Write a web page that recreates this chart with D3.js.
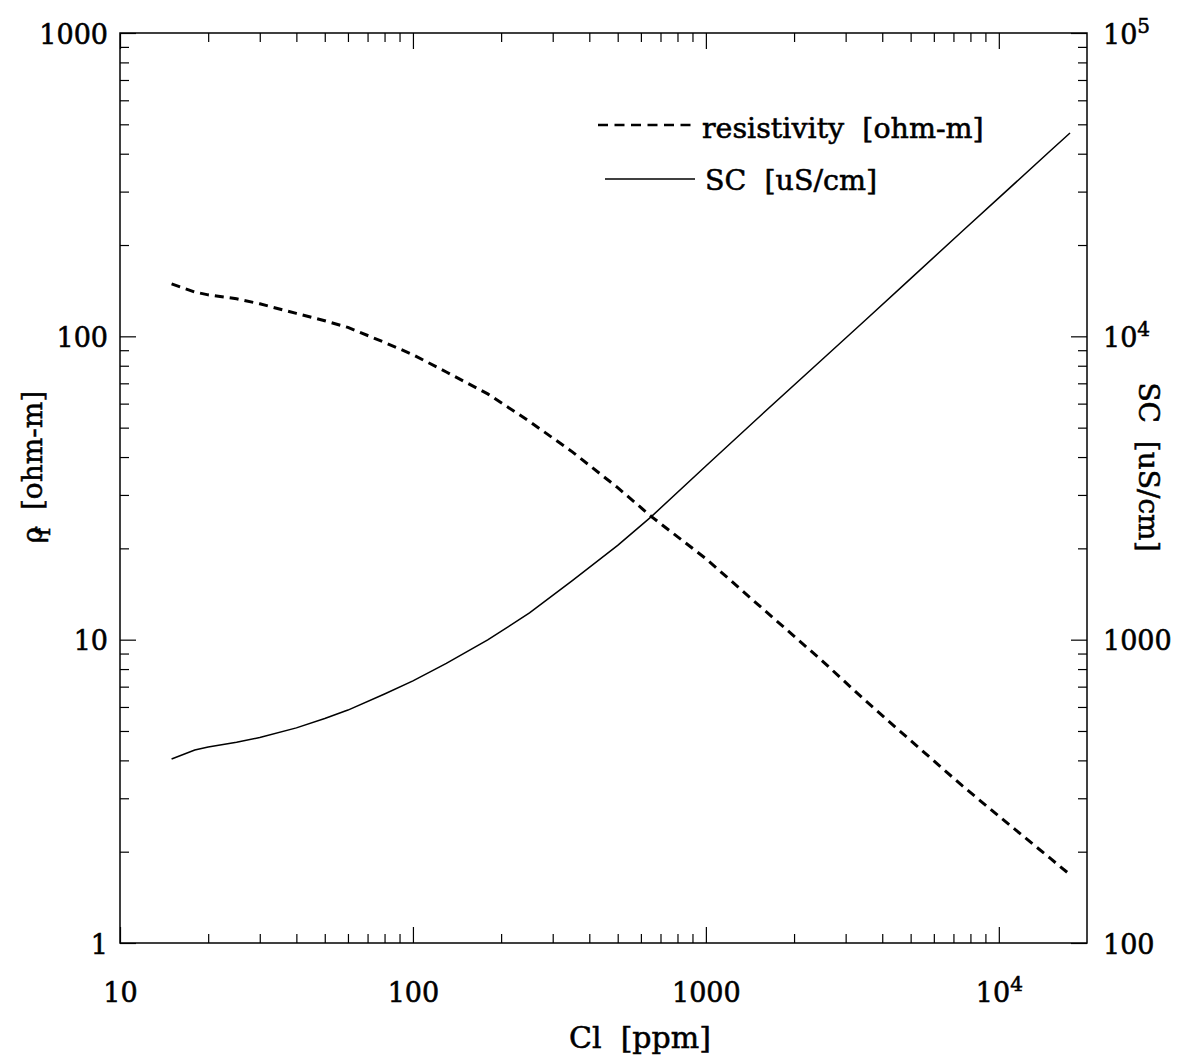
<!DOCTYPE html>
<html>
<head>
<meta charset="utf-8">
<script src="https://cdn.jsdelivr.net/npm/d3@7"></script>
<style>
  body { margin: 0; background: #fff; }
  text { font-family: "DejaVu Serif", serif; fill: #000; stroke: #000; stroke-width: 0.55px; }
</style>
</head>
<body>
<script>

// chloride concentration [ppm]
const chloride = [15, 18, 20, 25, 30, 40, 50, 60, 80, 100, 130, 180, 250, 350,
                  500, 650, 1000, 1500, 2500, 3500, 5000, 7500, 10000, 15000, 17500];

// fluid resistivity [ohm-m] (left axis)
const resistivity = [149, 140, 137, 133, 128, 119, 112.6, 107, 95.5, 87, 76.3, 64.6,
                     52.4, 41.6, 31.7, 25.5, 18.5, 13.1, 8.5, 6.3, 4.65, 3.3, 2.62,
                     1.9, 1.68];

// specific conductance [uS/cm] (right axis)
const conductance = [404, 433, 443, 459, 476, 512, 550, 586, 662, 731, 835, 998, 1225,
                     1565, 2047, 2540, 3738, 5360, 8400, 11300, 15500, 22200, 28600,
                     40900, 46800];

// major ticks and their labels: [base, superscript]
const xTicks = [10, 100, 1000, 10000];
const xTickLabels = [["10", ""], ["100", ""], ["1000", ""], ["10", "4"]];
const yLeftTicks = [1, 10, 100, 1000];
const yLeftTickLabels = [["1", ""], ["10", ""], ["100", ""], ["1000", ""]];
const yRightTicks = [100, 1000, 10000, 100000];
const yRightTickLabels = [["100", ""], ["1000", ""], ["10", "4"], ["10", "5"]];

const legendLabels = ["resistivity  [ohm-m]", "SC  [uS/cm]"];


window.onload = function() {
    drawChart();
};


/** Minor log ticks (2..9 of each decade) inside a domain. */
function minorTicks(domain) {
    let out = [];
    for (let d = Math.pow(10, Math.floor(Math.log10(domain[0]))); d < domain[1]; d *= 10) {
        for (let k = 2; k <= 9; k++) {
            let v = d * k;
            if (v > domain[0] && v < domain[1]) out.push(v);
        }
    }
    return out;
}


/** Write a tick label, with an optional superscript. */
function writeLabel(sel, labels) {
    sel.each(function(d, i) {
        let t = d3.select(this);
        t.text(null);
        t.append("tspan").text(labels[i][0]);
        if (labels[i][1] != "") {
            t.append("tspan")
             .attr("dy", -11)
             .attr("font-size", 20)
             .text(labels[i][1]);
        }
    });
}


function drawChart() {

    const w = 1178;
    const h = 1061;
    const left = 120, right = 1087, top = 33, bottom = 943;
    const major = 16, minor = 9;
    const font = "\"DejaVu Serif\", serif";

    let x = d3.scaleLog().domain([10, 20000]).range([left, right]);
    let yL = d3.scaleLog().domain([1, 1000]).range([bottom, top]);
    let yR = d3.scaleLog().domain([100, 100000]).range([bottom, top]);

    let svg = d3.select("body")
                .append("svg")
                .attr("width", w)
                .attr("height", h);

    // bottom axis
    let bx = svg.append("g")
                .attr("transform", "translate(0," + bottom + ")")
                .call(d3.axisBottom(x).tickValues(xTicks).tickSize(-major).tickSizeOuter(0));
    bx.selectAll(".tick text")
      .attr("y", 59).attr("dy", 0)
      .call(writeLabel, xTickLabels);
    svg.append("g")
       .attr("transform", "translate(0," + bottom + ")")
       .call(d3.axisBottom(x).tickValues(minorTicks(x.domain())).tickSize(-minor)
               .tickSizeOuter(0).tickFormat(""));

    // top axis, ticks only
    svg.append("g")
       .attr("transform", "translate(0," + top + ")")
       .call(d3.axisTop(x).tickValues(xTicks).tickSize(-major).tickSizeOuter(0).tickFormat(""));
    svg.append("g")
       .attr("transform", "translate(0," + top + ")")
       .call(d3.axisTop(x).tickValues(minorTicks(x.domain())).tickSize(-minor)
               .tickSizeOuter(0).tickFormat(""));

    // left axis
    let ly = svg.append("g")
                .attr("transform", "translate(" + left + ",0)")
                .call(d3.axisLeft(yL).tickValues(yLeftTicks).tickSize(-major)
                        .tickSizeOuter(0).tickPadding(12));
    ly.selectAll(".tick text")
      .attr("dy", "0.38em")
      .call(writeLabel, yLeftTickLabels);
    svg.append("g")
       .attr("transform", "translate(" + left + ",0)")
       .call(d3.axisLeft(yL).tickValues(minorTicks(yL.domain())).tickSize(-minor)
               .tickSizeOuter(0).tickFormat(""));

    // right axis
    let ry = svg.append("g")
                .attr("transform", "translate(" + right + ",0)")
                .call(d3.axisRight(yR).tickValues(yRightTicks).tickSize(-major)
                        .tickSizeOuter(0).tickPadding(16));
    ry.selectAll(".tick text")
      .attr("dy", "0.38em")
      .call(writeLabel, yRightTickLabels);
    svg.append("g")
       .attr("transform", "translate(" + right + ",0)")
       .call(d3.axisRight(yR).tickValues(minorTicks(yR.domain())).tickSize(-minor)
               .tickSizeOuter(0).tickFormat(""));

    // style all axes alike
    svg.selectAll("g")
       .attr("font-family", font)
       .attr("font-size", 27);
    svg.selectAll(".domain").remove();
    svg.selectAll(".tick line").attr("stroke-width", 1.2);

    // frame
    svg.append("rect")
       .attr("x", left).attr("y", top)
       .attr("width", right - left).attr("height", bottom - top)
       .attr("fill", "none")
       .attr("stroke", "#000")
       .attr("stroke-width", 1.5);

    // curves
    let rhoLine = d3.line()
                    .x(function(d, i) { return x(chloride[i]); })
                    .y(function(d) { return yL(d); });
    let scLine = d3.line()
                   .x(function(d, i) { return x(chloride[i]); })
                   .y(function(d) { return yR(d); });

    svg.append("path")
       .datum(resistivity)
       .attr("d", rhoLine)
       .attr("fill", "none")
       .attr("stroke", "#000")
       .attr("stroke-width", 3)
       .attr("stroke-dasharray", "9,6");

    svg.append("path")
       .datum(conductance)
       .attr("d", scLine)
       .attr("fill", "none")
       .attr("stroke", "#000")
       .attr("stroke-width", 1.5);

    // legend
    svg.append("line")
       .attr("x1", 598).attr("x2", 697).attr("y1", 125).attr("y2", 125)
       .attr("stroke", "#000").attr("stroke-width", 2.5)
       .attr("stroke-dasharray", "10,6.5");
    svg.append("text")
       .attr("x", 702).attr("y", 138)
       .style("white-space", "pre")
       .attr("font-size", 28.5)
       .text(legendLabels[0]);

    svg.append("line")
       .attr("x1", 605).attr("x2", 695).attr("y1", 179).attr("y2", 179)
       .attr("stroke", "#000").attr("stroke-width", 1.5);
    svg.append("text")
       .attr("x", 705).attr("y", 190)
       .style("white-space", "pre")
       .attr("font-size", 28.5)
       .text(legendLabels[1]);

    // axis titles
    svg.append("text")
       .attr("x", 640).attr("y", 1048)
       .attr("text-anchor", "middle")
       .style("white-space", "pre")
       .attr("font-size", 30)
       .text("Cl  [ppm]");

    let lt = svg.append("text")
                .attr("transform", "translate(42,467) rotate(-90)")
                .attr("text-anchor", "middle")
                .style("white-space", "pre")
                .attr("font-size", 28);
    lt.append("tspan").text("\u03c1");
    lt.append("tspan").attr("dx", -9).attr("dy", 8).attr("font-size", 21).text("f");
    lt.append("tspan").attr("dy", -8).text("  [ohm-m]");

    svg.append("text")
       .attr("transform", "translate(1139,467) rotate(90)")
       .attr("text-anchor", "middle")
       .style("white-space", "pre")
       .attr("font-size", 28)
       .text("SC  [uS/cm]");
}
</script>
</body>
</html>
